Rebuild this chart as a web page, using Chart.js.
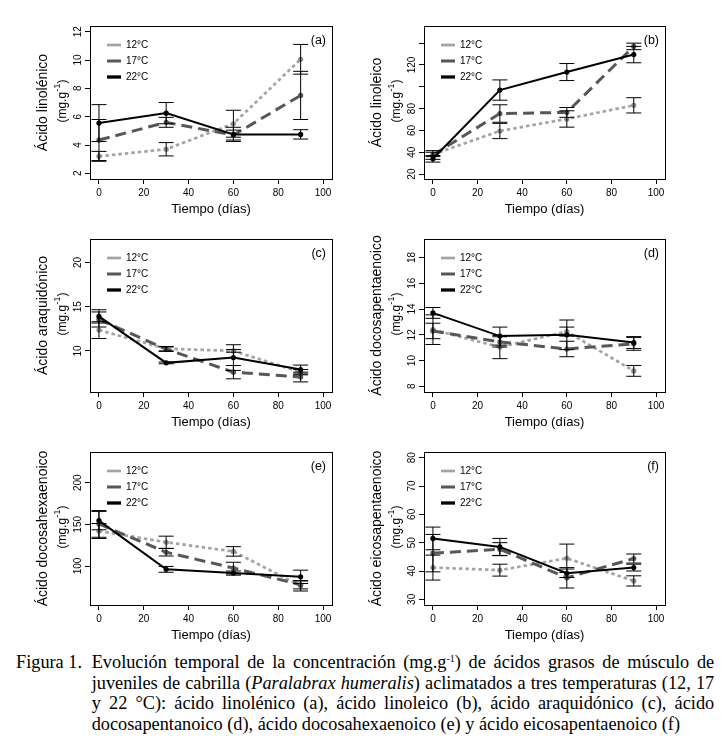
<!DOCTYPE html>
<html>
<head>
<meta charset="utf-8">
<script src="https://cdn.jsdelivr.net/npm/chart.js@4"></script>
<style>
html, body { margin: 0; padding: 0; background: #fff; }
body { width: 721px; height: 748px; position: relative; overflow: hidden; }
.panel { position: absolute; }
.cap { position: absolute; font-family: "Liberation Serif", "Times New Roman", serif; font-size: 18.3px; line-height: 20.5px; color: #000; }
.cap sup { font-size: 10px; line-height: 0; vertical-align: 6px; }
.just { text-align: justify; text-align-last: justify; }
.just.last { text-align-last: left; }
</style>
</head>
<body>
<div class="cap" style="left:16px; top:652px;">Figura 1.</div>
<div class="cap" style="left:91.7px; top:652px; width:622.5px;">
  <div class="just">Evolución temporal de la concentración (mg.g<sup>-1</sup>) de ácidos grasos de músculo de</div>
  <div class="just">juveniles de cabrilla (<i>Paralabrax humeralis</i>) aclimatados a tres temperaturas (12, 17</div>
  <div class="just">y 22 °C): ácido linolénico (a), ácido linoleico (b), ácido araquidónico (c), ácido</div>
  <div class="just last">docosapentanoico (d), ácido docosahexaenoico (e) y ácido eicosapentaenoico (f)</div>
</div>
<script>
// ---------------- DATA ----------------
const days = [0, 30, 60, 90];
const seriesLabels = ['12°C', '17°C', '22°C'];
const xTicks = [0, 20, 40, 60, 80, 100];
const xTickLabels = ['0', '20', '40', '60', '80', '100'];

// (a) Ácido linolénico
const linolenico12 = [3.2, 3.7, 5.5, 10.05];
const linolenico12Err = [0.35, 0.47, 0.95, 1.05];
const linolenico17 = [4.35, 5.6, 4.7, 7.5];
const linolenico17Err = [1.45, 0.35, 0.35, 1.7];
const linolenico22 = [5.55, 6.25, 4.75, 4.75];
const linolenico22Err = [1.3, 0.75, 0.5, 0.33];
const yTicksA = [2, 4, 6, 8, 10, 12];
const yLabelsA = ['2', '4', '6', '8', '10', '12'];

// (b) Ácido linoleico
const linoleico12 = [38, 59.5, 70.5, 83];
const linoleico12Err = [2, 7, 7.5, 7];
const linoleico17 = [37.5, 75.5, 76.5, 137];
const linoleico17Err = [4, 8, 4.5, 3];
const linoleico22 = [34, 97, 113.5, 129.5];
const linoleico22Err = [3, 9.3, 7.8, 7.5];
const yTicksB = [20, 40, 60, 80, 100, 120, 140];
const yLabelsB = ['20', '40', '60', '80', '', '120', ''];

// (c) Ácido araquidónico
const araquidonico12 = [12.35, 10.25, 10.0, 7.6];
const araquidonico12Err = [0.95, 0.25, 0.15, 0.3];
const araquidonico17 = [13.55, 10.2, 7.6, 7.05];
const araquidonico17Err = [0.85, 0.25, 0.75, 0.55];
const araquidonico22 = [13.9, 8.65, 9.25, 7.9];
const araquidonico22Err = [0.75, 0.1, 1.45, 0.5];
const yTicksC = [10, 15, 20];
const yLabelsC = ['10', '15', '20'];

// (d) Ácido docosapentaenoico
const docosapenta12 = [12.4, 11.05, 12.25, 9.2];
const docosapenta12Err = [1.15, 0.9, 0.35, 0.42];
const docosapenta17 = [12.3, 11.45, 10.9, 11.3];
const docosapenta17Err = [0.6, 0.4, 0.6, 0.5];
const docosapenta22 = [13.7, 11.9, 12.0, 11.4];
const docosapenta22Err = [0.42, 0.7, 1.15, 0.46];
const yTicksD = [8, 10, 12, 14, 16, 18];
const yLabelsD = ['8', '10', '12', '14', '16', '18'];

// (e) Ácido docosahexaenoico
const docosahexa12 = [142, 128.5, 117.5, 76];
const docosahexa12Err = [9, 7.3, 5.7, 6];
const docosahexa17 = [150.5, 116.5, 97.5, 77.5];
const docosahexa17Err = [16, 4.5, 7, 5];
const docosahexa22 = [154.5, 96, 91.5, 87];
const docosahexa22Err = [11, 3.5, 2.5, 8];
const yTicksE = [100, 150, 200];
const yLabelsE = ['100', '150', '200'];

// (f) Ácido eicosapentaenoico
const eicosapenta12 = [41.2, 40.3, 44.5, 36.5];
const eicosapenta12Err = [4.4, 2.1, 5, 1.8];
const eicosapenta17 = [46.3, 47.7, 37.6, 44.4];
const eicosapenta17Err = [6.6, 2.3, 3.6, 1.6];
const eicosapenta22 = [51.5, 48.5, 39.2, 41.2];
const eicosapenta22Err = [4, 3, 1.5, 1.2];
const yTicksF = [30, 40, 50, 60, 70, 80];
const yLabelsF = ['30', '40', '50', '60', '70', '80'];

// ---------------- STYLE / LAYOUT ----------------
const FONT = '"Liberation Sans", Arial, sans-serif';
Chart.defaults.font.family = FONT;
Chart.defaults.color = '#000';
const lineColors = ['#a3a3a3', '#575757', '#000000'];
const pointColors = ['#8e8e8e', '#5a5a5a', '#000000'];
const lineWidths = [2.7, 3, 2];
const legendWidths = [2.7, 3, 3.3];
const dashes = [[3.5, 3], [11, 6], []];

const colLeft = [0, 360], colWidth = [360, 361];
const caLeftCol = [90, 64], caRightCol = [332, 305];
const rowTop = [0, 213, 426];
const canvasH = 225, caTop = 26, caBottom = 179;

const panels = [
  { title: 'Ácido linolénico', letter: '(a)', col: 0, row: 0, yMin: 1.6, yMax: 12.4, yTicks: yTicksA, yLabels: yLabelsA,
    series: [[linolenico12, linolenico12Err], [linolenico17, linolenico17Err], [linolenico22, linolenico22Err]] },
  { title: 'Ácido linoleico', letter: '(b)', col: 1, row: 0, yMin: 15.5, yMax: 155.7, yTicks: yTicksB, yLabels: yLabelsB,
    series: [[linoleico12, linoleico12Err], [linoleico17, linoleico17Err], [linoleico22, linoleico22Err]] },
  { title: 'Ácido araquidónico', letter: '(c)', col: 0, row: 1, yMin: 5.36, yMax: 22.64, yTicks: yTicksC, yLabels: yLabelsC,
    series: [[araquidonico12, araquidonico12Err], [araquidonico17, araquidonico17Err], [araquidonico22, araquidonico22Err]] },
  { title: 'Ácido docosapentaenoico', letter: '(d)', col: 1, row: 1, yMin: 7.56, yMax: 19.44, yTicks: yTicksD, yLabels: yLabelsD,
    series: [[docosapenta12, docosapenta12Err], [docosapenta17, docosapenta17Err], [docosapenta22, docosapenta22Err]] },
  { title: 'Ácido docosahexaenoico', letter: '(e)', col: 0, row: 2, yMin: 53.2, yMax: 236.8, yTicks: yTicksE, yLabels: yLabelsE,
    series: [[docosahexa12, docosahexa12Err], [docosahexa17, docosahexa17Err], [docosahexa22, docosahexa22Err]] },
  { title: 'Ácido eicosapentaenoico', letter: '(f)', col: 1, row: 2, yMin: 28, yMax: 82, yTicks: yTicksF, yLabels: yLabelsF,
    series: [[eicosapenta12, eicosapenta12Err], [eicosapenta17, eicosapenta17Err], [eicosapenta22, eicosapenta22Err]] }
];

const mctx = document.createElement('canvas').getContext('2d');

function makeDecor(p) {
  return {
    id: 'decor',
    afterLayout(chart) {
      const lg = chart.legend, ca = chart.chartArea;
      if (lg) { lg.left = ca.left + 11; lg.top = ca.top + 8; lg.right = ca.right; lg.bottom = ca.bottom; }
    },
    afterDatasetsDraw(chart) {
      const ctx = chart.ctx, xs = chart.scales.x, ys = chart.scales.y;
      const cap = 7.5;
      ctx.save();
      ctx.strokeStyle = '#000'; ctx.lineWidth = 1; ctx.setLineDash([]);
      p.series.forEach(([vals, errs]) => {
        days.forEach((d, k) => {
          const px = xs.getPixelForValue(d);
          const t = ys.getPixelForValue(vals[k] + errs[k]);
          const b = ys.getPixelForValue(vals[k] - errs[k]);
          ctx.beginPath();
          ctx.moveTo(px, t); ctx.lineTo(px, b);
          ctx.moveTo(px - cap, t); ctx.lineTo(px + cap, t);
          ctx.moveTo(px - cap, b); ctx.lineTo(px + cap, b);
          ctx.stroke();
        });
      });
      ctx.restore();
    },
    afterDraw(chart) {
      const ctx = chart.ctx, ca = chart.chartArea;
      ctx.save();
      ctx.strokeStyle = '#000'; ctx.lineWidth = 1; ctx.setLineDash([]);
      ctx.strokeRect(Math.round(ca.left) + 0.5, Math.round(ca.top) + 0.5,
                     Math.round(ca.right - ca.left), Math.round(ca.bottom - ca.top));
      ctx.fillStyle = '#000';
      const cy = (ca.top + ca.bottom) / 2;
      // main y title
      ctx.save();
      ctx.translate(ca.left - 47, cy);
      ctx.rotate(-Math.PI / 2);
      ctx.font = '14px ' + FONT;
      ctx.textAlign = 'center'; ctx.textBaseline = 'middle';
      ctx.fillText(p.title, 0, 0);
      ctx.restore();
      // unit line (mg.g^-1)
      ctx.save();
      ctx.translate(ca.left - 27, cy - 1);
      ctx.rotate(-Math.PI / 2);
      ctx.textBaseline = 'middle'; ctx.textAlign = 'left';
      const f1 = '12px ' + FONT, f2 = '8.5px ' + FONT;
      ctx.font = f1; const w1 = ctx.measureText('(mg.g').width, w3 = ctx.measureText(')').width;
      ctx.font = f2; const w2 = ctx.measureText('-1').width;
      let x0 = -(w1 + w2 + w3) / 2;
      ctx.font = f1; ctx.fillText('(mg.g', x0, 0);
      ctx.font = f2; ctx.fillText('-1', x0 + w1 + 0.5, -5);
      ctx.font = f1; ctx.fillText(')', x0 + w1 + w2 + 1, 0);
      ctx.restore();
      // panel letter
      ctx.font = '12.5px ' + FONT;
      ctx.textAlign = 'right'; ctx.textBaseline = 'middle';
      ctx.fillText(p.letter, ca.right - 6, ca.top + 15);
      ctx.restore();
    }
  };
}

function makeChart(p) {
  const W = colWidth[p.col];
  const L = caLeftCol[p.col], R = caRightCol[p.col];
  const wrap = document.createElement('div');
  wrap.className = 'panel';
  wrap.style.left = colLeft[p.col] + 'px';
  wrap.style.top = rowTop[p.row] + 'px';
  wrap.style.width = W + 'px';
  wrap.style.height = canvasH + 'px';
  const cv = document.createElement('canvas');
  cv.width = W; cv.height = canvasH;
  cv.style.width = W + 'px'; cv.style.height = canvasH + 'px';
  wrap.appendChild(cv);
  document.body.appendChild(wrap);

  mctx.font = '10px ' + FONT;
  const widest = Math.max(...p.yLabels.map(t => mctx.measureText(t).width));
  const yPad = 11.5 - 5 - widest / 2;

  const datasets = p.series.map((s, i) => ({
    label: seriesLabels[i],
    data: days.map((d, k) => ({ x: d, y: s[0][k] })),
    borderColor: lineColors[i],
    backgroundColor: lineColors[i],
    borderWidth: lineWidths[i],
    borderDash: dashes[i],
    borderCapStyle: 'butt',
    pointRadius: 2.6,
    pointHoverRadius: 2.6,
    pointBackgroundColor: pointColors[i],
    pointBorderWidth: 0,
    tension: 0,
    fill: false,
    order: 3 - i
  }));

  const gridOpts = { display: true, drawOnChartArea: false, drawTicks: true, tickLength: 5, color: '#000', lineWidth: 1 };

  new Chart(cv, {
    type: 'line',
    data: { datasets },
    options: {
      responsive: false,
      animation: false,
      events: [],
      layout: { padding: { left: 0, top: caTop, right: W - R, bottom: 0 } },
      scales: {
        x: {
          type: 'linear', min: -4, max: 104,
          afterBuildTicks: s => { s.ticks = xTicks.map(v => ({ value: v })); },
          afterFit: s => { s.height = canvasH - caBottom; },
          grid: gridOpts,
          border: { display: false },
          ticks: { font: { size: 10, family: FONT }, color: '#000', padding: 3, maxRotation: 0, autoSkip: false,
                   callback: (v) => xTickLabels[xTicks.indexOf(v)] },
          title: { display: true, text: 'Tiempo (días)', font: { size: 13, family: FONT }, color: '#000', padding: { top: 0, bottom: 8 } }
        },
        y: {
          type: 'linear', min: p.yMin, max: p.yMax,
          afterBuildTicks: s => { s.ticks = p.yTicks.map(v => ({ value: v })); },
          afterFit: s => { s.width = L; },
          grid: gridOpts,
          border: { display: false },
          ticks: { font: { size: 10, family: FONT }, color: '#000', padding: yPad, minRotation: 90, maxRotation: 90,
                   crossAlign: 'center', autoSkip: false,
                   callback: (v) => p.yLabels[p.yTicks.indexOf(v)] }
        }
      },
      plugins: {
        tooltip: { enabled: false },
        legend: {
          display: true,
          position: 'chartArea',
          align: 'start',
          labels: {
            font: { size: 10, family: FONT },
            color: '#000',
            padding: 6,
            usePointStyle: true,
            pointStyle: 'line',
            pointStyleWidth: 14,
            boxHeight: 10,
            sort: (a, b) => a.datasetIndex - b.datasetIndex,
            generateLabels: (chart) => Chart.defaults.plugins.legend.labels.generateLabels(chart)
              .map(l => Object.assign({}, l, { lineWidth: legendWidths[l.datasetIndex], pointStyle: 'line', fillStyle: 'rgba(0,0,0,0)' }))
          }
        }
      }
    },
    plugins: [makeDecor(p)]
  });
}

panels.forEach(makeChart);
</script>
</body>
</html>
